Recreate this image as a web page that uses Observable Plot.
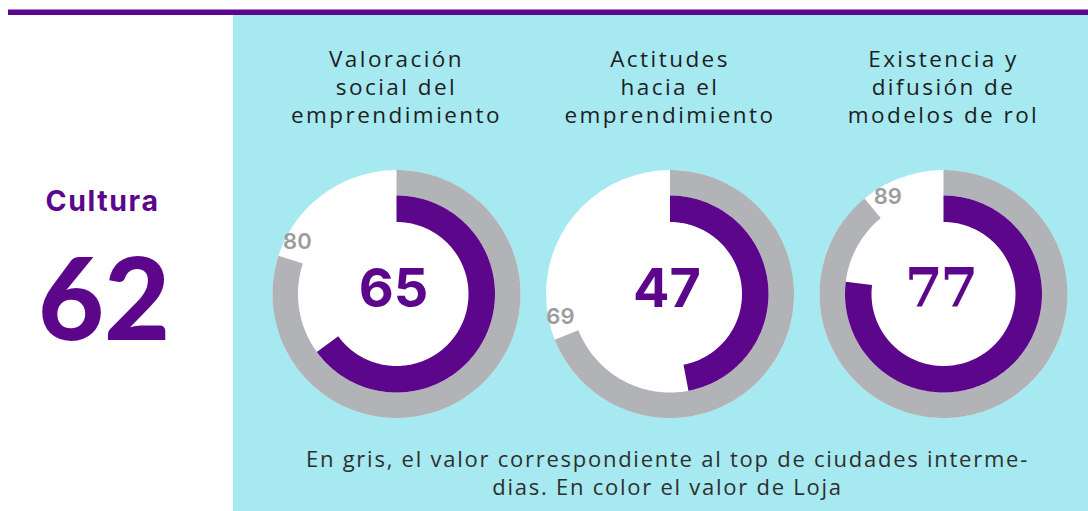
<!DOCTYPE html>
<html><head><meta charset="utf-8">
<script src="https://cdn.jsdelivr.net/npm/d3@7"></script>
<script src="https://cdn.jsdelivr.net/npm/@observablehq/plot@0.6"></script>
<style>html,body{margin:0;padding:0;background:#fff;} svg{display:block}</style>
</head><body><div id="chart"></div>
<script>
// ---- data ----
const indicators = ["Valoración\nsocial del\nemprendimiento", "Actitudes\nhacia el\nemprendimiento", "Existencia y\ndifusión de\nmodelos de rol"];
const lojaValues = [65, 47, 77];
const topValues = [80, 69, 89];
const pillarName = "Cultura";
const pillarValue = 62;
const noteLines = ["En gris, el valor correspondiente al top de ciudades interme-", "dias. En color el valor de Loja"];

// ---- layout & style ----
const W = 1088, H = 511;
const L = {cx: [396, 669.5, 943], cy: 293.5, rOuter: 124, rMid: 98.5, rInner: 72,
  panelX: 233, panelY: 15, barY1: 9.5, barY2: 15, barX1: 8,
  titleY: 85.5, noteY: 459.5, noteLH: 28, labelR: 112, labelShift: 2.7};
const C = {purple: "#5c068c", grey: "#b2b3b7", label: "#9c9c9c", cyan: "#a6e9f0", text: "#1e1e1e", note: "#2f2f2f"};

function sector(id, cx, cy, r0, r1, value) {
  const a1 = value / 100 * 2 * Math.PI;
  const n = Math.max(2, Math.ceil(value * 3.6));
  const pts = [];
  for (let k = 0; k <= n; k++) { const a = a1 * k / n; pts.push({id, x: cx + r1 * Math.sin(a), y: cy - r1 * Math.cos(a)}); }
  for (let k = n; k >= 0; k--) { const a = a1 * k / n; pts.push({id, x: cx + r0 * Math.sin(a), y: cy - r0 * Math.cos(a)}); }
  return pts;
}
const greyPts = topValues.flatMap((v, i) => sector("g" + i, L.cx[i], L.cy, L.rMid, L.rOuter, v));
const purplePts = lojaValues.flatMap((v, i) => sector("p" + i, L.cx[i], L.cy, L.rInner, L.rMid, v));

const labelAngle = v => (v + L.labelShift) / 100 * 2 * Math.PI;

const chart = Plot.plot({
  width: W, height: H, margin: 0,
  x: {type: "linear", domain: [0, W], range: [0, W], axis: null},
  y: {type: "linear", domain: [0, H], range: [0, H], axis: null},
  style: {background: "white"},
  marks: [
    Plot.rect([0], {x1: () => L.panelX, x2: () => W, y1: () => L.panelY, y2: () => H, fill: C.cyan}),
    Plot.rect([0], {x1: () => L.barX1, x2: () => W, y1: () => L.barY1, y2: () => L.barY2, fill: C.purple}),
    Plot.dot(lojaValues, {x: (d, i) => L.cx[i], y: () => L.cy, r: L.rOuter, fill: "white", stroke: null}),
    Plot.line(greyPts, {x: "x", y: "y", z: "id", fill: C.grey, stroke: "none", curve: "linear"}),
    Plot.line(purplePts, {x: "x", y: "y", z: "id", fill: C.purple, stroke: "none", curve: "linear"}),
    // [0] titles
    Plot.text(indicators, {x: (d, i) => L.cx[i], y: () => L.titleY, text: d => d, fontFamily: "Open Sans", fontSize: 22.5, lineHeight: 1.26, fill: C.text}),
    // [1] centre values (sans)
    Plot.text(lojaValues, {filter: (d, i) => i < 2, x: (d, i) => L.cx[i] - 3, y: () => L.cy - 4, text: d => String(d), fontFamily: "Inter", fontSize: 54, fontWeight: 700, fill: C.purple}),
    // [2] centre value (slab serif as in the reference)
    Plot.text(lojaValues, {filter: (d, i) => i === 2, x: (d, i) => L.cx[i] - 3, y: () => L.cy - 4, text: d => String(d), fontFamily: "'DejaVu Serif', 'Liberation Serif', serif", fontSize: 54, fontWeight: 700, fill: C.purple}),
    // [3] grey labels
    Plot.text(topValues, {x: (d, i) => L.cx[i] + L.labelR * Math.sin(labelAngle(d)), y: d => L.cy - L.labelR * Math.cos(labelAngle(d)), text: d => String(d), fontFamily: "Inter", fontSize: 22, fontWeight: 600, fill: C.label}),
    // [4] pillar name
    Plot.text([pillarName], {x: () => 102, y: () => 201.5, text: d => d, fontFamily: "Inter", fontSize: 28.5, fontWeight: 700, fill: C.purple}),
    // [5] pillar value
    Plot.text([pillarValue], {x: () => 103.5, y: () => 303, text: d => String(d), fontFamily: "Lato", fontSize: 114, fontWeight: 900, fill: C.purple}),
    // [6] note
    Plot.text(noteLines, {x: () => 667, y: (d, i) => L.noteY + i * L.noteLH, text: d => d, fontFamily: "Open Sans", fontSize: 22, fill: C.note})
  ]
});
document.getElementById("chart").appendChild(chart);
const textGroups = chart.querySelectorAll('g[aria-label="text"]');
const spacing = [2.45, 0, -2, 0, 1.6, 0, 1.75];
textGroups.forEach((g, k) => { if (spacing[k]) g.setAttribute("letter-spacing", spacing[k]); });
</script>
</body></html>
